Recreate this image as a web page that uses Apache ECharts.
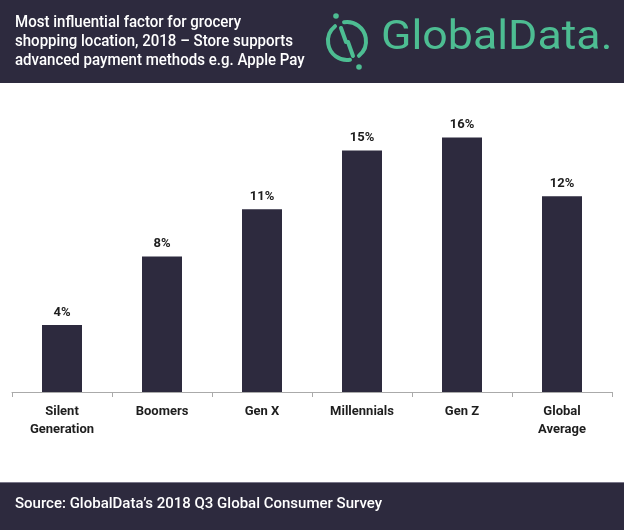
<!DOCTYPE html>
<html>
<head>
<meta charset="utf-8">
<script src="https://cdn.jsdelivr.net/npm/echarts@6/dist/echarts.min.js"></script>
<style>html,body{margin:0;padding:0;background:#fff}#c{width:624px;height:530px}</style>
</head>
<body>
<div id="c"></div>
<script>
const categories = ['Silent\nGeneration', 'Boomers', 'Gen X', 'Millennials', 'Gen Z', 'Global\nAverage'];
const values = [4.1, 8.3, 11.2, 14.8, 15.6, 12.0];
const titleLines = ['Most influential factor for grocery', 'shopping location, 2018 \u2013 Store supports', 'advanced payment methods e.g. Apple Pay'];
const sourceText = 'Source: GlobalData\u2019s 2018 Q3 Global Consumer Survey';

const dark = '#2d2a3e';
const green = '#4dbd92';
const font = 'Roboto, "Noto Sans", sans-serif';
const chart = echarts.init(document.getElementById('c'));
const deg = Math.PI / 180;
chart.setOption({
  animation: false,
  grid: { left: 12, right: 12, top: 82, height: 310 },
  xAxis: {
    type: 'category',
    data: categories,
    axisLine: { lineStyle: { color: '#aaaaaa', width: 1 } },
    axisTick: { show: true, length: 5, lineStyle: { color: '#aaaaaa' } },
    axisLabel: { color: '#1e1e1e', fontSize: 13, fontWeight: 'bold', fontFamily: font, margin: 11, lineHeight: 18, interval: 0 }
  },
  yAxis: { type: 'value', min: 0, max: 19, show: false, splitLine: { show: false } },
  series: [{
    type: 'bar',
    data: values,
    barWidth: 40,
    itemStyle: { color: dark },
    label: {
      show: true, position: 'top', distance: 6,
      color: '#1e1e1e', fontSize: 13, fontWeight: 'bold', fontFamily: font,
      formatter: p => Math.round(p.value) + '%'
    }
  }],
  graphic: [
    { type: 'rect', x: 0, y: 0, shape: { width: 624, height: 83 }, style: { fill: dark }, z: 10 },
    { type: 'rect', x: 0, y: 482, shape: { width: 624, height: 48 }, style: { fill: dark }, z: 10 },
    { type: 'rect', x: 0, y: 482, shape: { width: 624, height: 1 }, style: { fill: '#7a7789' }, z: 11 },
    { type: 'text', x: 15, y: 13, scaleX: 0.885, z: 12, style: { text: titleLines.join('\n'), fill: '#ffffff', font: '500 17px ' + font, lineHeight: 19 } },
    { type: 'text', x: 15, y: 497, z: 12, style: { text: sourceText, fill: '#ffffff', font: '500 15px ' + font } },
    { type: 'arc', z: 12, shape: { cx: 347, cy: 41, r: 19, startAngle: -99 * deg, endAngle: 51 * deg, clockwise: true }, style: { stroke: green, lineWidth: 4, fill: null, lineCap: 'round' } },
    { type: 'arc', z: 12, shape: { cx: 347, cy: 41, r: 19, startAngle: 81 * deg, endAngle: 231 * deg, clockwise: true }, style: { stroke: green, lineWidth: 4, fill: null, lineCap: 'round' } },
    { type: 'line', z: 12, shape: { x1: 341, y1: 28, x2: 346, y2: 42 }, style: { stroke: green, lineWidth: 4, lineCap: 'round' } },
    { type: 'line', z: 12, shape: { x1: 348, y1: 42, x2: 353, y2: 56 }, style: { stroke: green, lineWidth: 4, lineCap: 'round' } },
    { type: 'circle', z: 12, shape: { cx: 336, cy: 16, r: 2.8 }, style: { fill: green } },
    { type: 'circle', z: 12, shape: { cx: 359, cy: 67, r: 2.8 }, style: { fill: green } },
    { type: 'text', x: 381, y: 18, scaleX: 1.09, z: 12, style: { text: 'GlobalData.', fill: green, font: '400 41px ' + font } }
  ]
});
</script>
</body>
</html>
